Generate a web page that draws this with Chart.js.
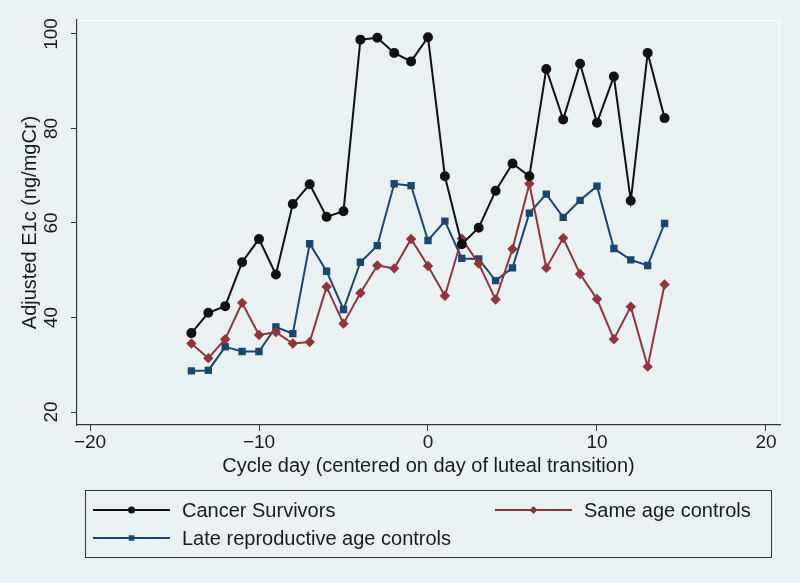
<!DOCTYPE html>
<html>
<head>
<meta charset="utf-8">
<script src="https://cdn.jsdelivr.net/npm/chart.js@4"></script>
<style>
  html, body { margin: 0; padding: 0; background: #eaf1f3; }
  #wrap { width: 800px; height: 583px; }
</style>
</head>
<body>
<div id="wrap"><canvas id="e1c-chart" width="800" height="583"></canvas></div>
<script>
// cycle days and adjusted E1c values
const cycleDays = [-14, -13, -12, -11, -10, -9, -8, -7, -6, -5, -4, -3, -2, -1, 0,
                   1, 2, 3, 4, 5, 6, 7, 8, 9, 10, 11, 12, 13, 14];
const cancerSurvivors = [36.7, 41.0, 42.4, 51.7, 56.6, 49.1, 64.0, 68.2, 61.3, 62.5, 98.8, 99.2, 96.0, 94.2, 99.3,
                         69.9, 55.5, 59.0, 66.8, 72.6, 69.9, 92.6, 81.9, 93.7, 81.2, 91.0, 64.7, 96.0, 82.2];
const sameAgeControls = [34.5, 31.4, 35.4, 43.1, 36.3, 36.9, 34.5, 34.8, 46.5, 38.7, 45.2, 51.0, 50.4, 56.6, 50.9,
                         44.6, 56.7, 51.4, 43.8, 54.5, 68.3, 50.5, 56.8, 49.2, 43.9, 35.4, 42.3, 29.6, 47.0];
const lateReproControls = [28.7, 28.8, 33.8, 32.8, 32.8, 38.0, 36.6, 55.6, 49.8, 41.7, 51.7, 55.2, 68.3, 67.9, 56.3,
                           60.4, 52.5, 52.4, 47.8, 50.5, 62.1, 66.1, 61.2, 64.8, 67.8, 54.6, 52.2, 51.0, 59.9];
const xTicks = [-20, -10, 0, 10, 20];
const yTicks = [20, 40, 60, 80, 100];

const bg = '#eaf1f3';
const textColor = '#1a1a1a';
const fontFamily = '"Liberation Sans", Arial, sans-serif';

function toPoints(vals) {
    return cycleDays.map(function(d, i) { return { x: d, y: vals[i] }; });
}

// page background + thin white frame of the plot region
const backgroundPlugin = {
    id: 'stataBackground',
    beforeDraw: function(chart) {
        const ctx = chart.ctx;
        const a = chart.chartArea;
        ctx.save();
        ctx.fillStyle = bg;
        ctx.fillRect(0, 0, chart.width, chart.height);
        ctx.strokeStyle = '#ffffff';
        ctx.lineWidth = 1;
        ctx.strokeRect(a.left + 0.5, a.top + 0.5, a.right - a.left - 1, a.bottom - a.top);
        ctx.restore();
    }
};

// two-column boxed legend like Stata's
const boxLegendPlugin = {
    id: 'boxLegend',
    afterDraw: function(chart) {
        const ctx = chart.ctx;
        const box = { left: 85, top: 490, right: 771, bottom: 557 };
        const slots = [
            { col: 0, row: 0 },
            { col: 1, row: 0 },
            { col: 0, row: 1 }
        ];
        const colX = [93, 495];
        const rowY = [510, 538];
        ctx.save();
        ctx.strokeStyle = '#333333';
        ctx.lineWidth = 1;
        ctx.strokeRect(box.left + 0.5, box.top + 0.5, box.right - box.left, box.bottom - box.top);
        ctx.font = '20px ' + fontFamily;
        ctx.textBaseline = 'middle';
        ctx.fillStyle = textColor;
        chart.data.datasets.forEach(function(ds, i) {
            const s = slots[i];
            const x0 = colX[s.col];
            const y = rowY[s.row];
            ctx.strokeStyle = ds.borderColor;
            ctx.lineWidth = 2;
            ctx.beginPath();
            ctx.moveTo(x0, y);
            ctx.lineTo(x0 + 77, y);
            ctx.stroke();
            Chart.helpers.drawPoint(ctx, {
                pointStyle: ds.pointStyle,
                radius: 2.5,
                borderWidth: 1
            }, x0 + 38.5, y);
            ctx.fillStyle = ds.borderColor;
            ctx.fill();
            ctx.fillStyle = textColor;
            ctx.fillText(ds.label, x0 + 89, y + 1);
        });
        ctx.restore();
    }
};

new Chart(document.getElementById('e1c-chart'), {
    type: 'line',
    data: {
        datasets: [
            {
                label: 'Cancer Survivors',
                data: toPoints(cancerSurvivors),
                borderColor: '#111111',
                backgroundColor: '#111111',
                pointStyle: 'circle',
                pointRadius: 4,
                borderWidth: 2
            },
            {
                label: 'Same age controls',
                data: toPoints(sameAgeControls),
                borderColor: '#90353b',
                backgroundColor: '#90353b',
                pointStyle: 'rectRot',
                pointRadius: 3.8,
                borderWidth: 2
            },
            {
                label: 'Late reproductive age controls',
                data: toPoints(lateReproControls),
                borderColor: '#1a476f',
                backgroundColor: '#1a476f',
                pointStyle: 'rect',
                pointRadius: 3.8,
                borderWidth: 2
            }
        ]
    },
    options: {
        responsive: false,
        animation: false,
        layout: { padding: { top: 20, right: 20, bottom: 101, left: 0 } },
        plugins: {
            legend: { display: false },
            tooltip: { enabled: false }
        },
        scales: {
            x: {
                type: 'linear',
                min: -20.77,
                max: 20.83,
                afterBuildTicks: function(scale) {
                    scale.ticks = xTicks.map(function(v) { return { value: v }; });
                },
                afterFit: function(scale) { scale.height = 57; },
                grid: { drawOnChartArea: false, drawTicks: true, tickLength: 6, color: '#333333' },
                border: { color: '#333333', width: 1.2 },
                ticks: {
                    color: textColor,
                    padding: 0,
                    maxRotation: 0,
                    font: { family: fontFamily, size: 19 },
                    callback: function(v) { return String(v).replace('-', '\u2212'); }
                },
                title: {
                    display: true,
                    text: 'Cycle day (centered on day of luteal transition)',
                    color: textColor,
                    font: { family: fontFamily, size: 20 },
                    padding: { top: 0, bottom: 4 }
                }
            },
            y: {
                type: 'linear',
                min: 17.25,
                max: 102.96,
                afterBuildTicks: function(scale) {
                    scale.ticks = yTicks.map(function(v) { return { value: v }; });
                },
                afterFit: function(scale) { scale.width = 77; },
                grid: { drawOnChartArea: false, drawTicks: true, tickLength: 6, color: '#333333' },
                border: { color: '#333333', width: 1.2 },
                ticks: {
                    color: textColor,
                    padding: 3,
                    minRotation: 90,
                    maxRotation: 90,
                    crossAlign: 'center',
                    font: { family: fontFamily, size: 19 }
                },
                title: {
                    display: true,
                    text: 'Adjusted E1c (ng/mgCr)',
                    color: textColor,
                    font: { family: fontFamily, size: 20 },
                    padding: { top: 18, bottom: 0 }
                }
            }
        }
    },
    plugins: [backgroundPlugin, boxLegendPlugin]
});
</script>
</body>
</html>
